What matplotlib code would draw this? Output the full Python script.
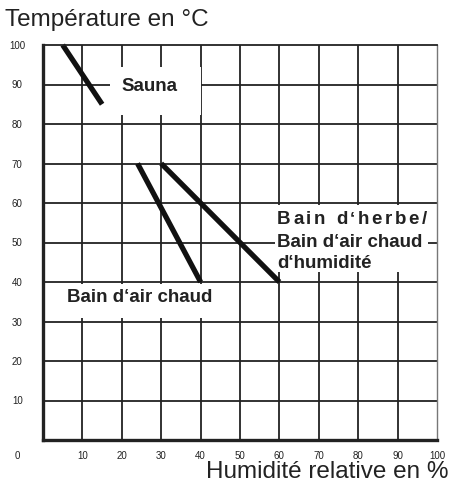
import numpy as np
import matplotlib
matplotlib.use("Agg")
import matplotlib.pyplot as plt
from matplotlib.patches import Rectangle
from matplotlib.font_manager import FontProperties
from matplotlib.transforms import offset_copy

plt.rcParams['font.family'] = ['Liberation Sans', 'DejaVu Sans']

# donnees
x_ticks = [10, 20, 30, 40, 50, 60, 70, 80, 90, 100]
y_ticks = [10, 20, 30, 40, 50, 60, 70, 80, 90, 100]

sauna_x = [5, 15]
sauna_y = [100, 85]
air_chaud_x = [24, 40]
air_chaud_y = [70, 40]
herbe_x = [30, 60]
herbe_y = [70, 40]

fig = plt.figure(figsize=(4.5, 4.83), dpi=100)
ax = fig.add_axes([43/450, 1-440/483, 394/450, 395/483])
ax.set_xlim(0, 100)
ax.set_ylim(0, 100)

# grille
for v in x_ticks[:-1]:
    ax.axvline(v, color='#222222', lw=1.3, zorder=1)
for v in y_ticks[:-1]:
    ax.axhline(v, color='#222222', lw=1.3, zorder=1)

# cadres blancs derriere les textes
ax.add_patch(Rectangle((17, 82.3), 23, 12.1, facecolor='white', edgecolor='none', zorder=2))
ax.add_patch(Rectangle((1, 31), 40, 8.6, facecolor='white', edgecolor='none', zorder=2))
ax.add_patch(Rectangle((58.9, 42.5), 38.8, 17, facecolor='white', edgecolor='none', zorder=2))

# courbes
for xs, ys in [(sauna_x, sauna_y), (air_chaud_x, air_chaud_y), (herbe_x, herbe_y)]:
    ax.plot(xs, ys, color='#111111', lw=3.8, solid_capstyle='butt', zorder=3, clip_on=False)

lab_size = 13.5
ax.text(26.9, 89.4, "Sauna", fontsize=lab_size, fontweight='bold', ha='center', va='center', color='#222222', zorder=4)
ax.text(24.6, 36.2, "Bain d‘air chaud", fontsize=lab_size, fontweight='bold', ha='center', va='center', color='#222222', zorder=4)
ax.text(59.4, 48.9, "Bain d‘air chaud", fontsize=lab_size, fontweight='bold', ha='left', va='baseline', color='#222222', zorder=4)
ax.text(59.4, 43.6, "d‘humidité", fontsize=lab_size, fontweight='bold', ha='left', va='baseline', color='#222222', zorder=4)

# premiere ligne avec espacement des lettres
line1 = "Bain d‘herbe/"
fp = FontProperties(family=['Liberation Sans', 'DejaVu Sans'], weight='bold', size=lab_size)
renderer = fig.canvas.get_renderer()
spacing = 2.6  # px
for i, ch in enumerate(line1):
    if ch == ' ':
        continue
    w_all = renderer.get_text_width_height_descent(line1[:i+1], fp, ismath=False)[0]
    w_ch = renderer.get_text_width_height_descent(ch, fp, ismath=False)[0]
    dx = (w_all - w_ch + i * spacing) * 72 / 100
    tr = offset_copy(ax.transData, fig=fig, x=dx, y=0, units='points')
    ax.text(59.4, 54.7, ch, fontproperties=fp, ha='left', va='baseline', color='#222222', zorder=4, transform=tr)

# axes
ax.spines['left'].set_linewidth(2.4)
ax.spines['bottom'].set_linewidth(2.4)
ax.spines['left'].set_color('#222222')
ax.spines['bottom'].set_color('#222222')
ax.spines['top'].set_linewidth(1.3)
ax.spines['top'].set_color('#222222')
ax.spines['right'].set_linewidth(1.0)
ax.spines['right'].set_color('#777777')
for s in ax.spines.values():
    s.set_zorder(5)

ax.set_xticks(x_ticks)
ax.set_yticks(y_ticks)
ax.set_xticklabels([str(v) for v in x_ticks])
ax.set_yticklabels([str(v) for v in y_ticks])
ax.tick_params(axis='both', length=0, labelsize=7, colors='#222222')
ax.tick_params(axis='x', pad=8)
ax.tick_params(axis='y', pad=18.5)
for lab in ax.get_yticklabels():
    lab.set_horizontalalignment('center')

fig.text(17/450, 1-456/483, "0", fontsize=7, ha='center', va='center', color='#222222')
fig.text(5/450, 1-20/483, "Température en °C", fontsize=17.5, ha='left', va='center', color='#222222')
fig.text(449/450, 1-472/483, "Humidité relative en %", fontsize=17.5, ha='right', va='center', color='#222222')

fig.savefig("out.png", dpi=100)
